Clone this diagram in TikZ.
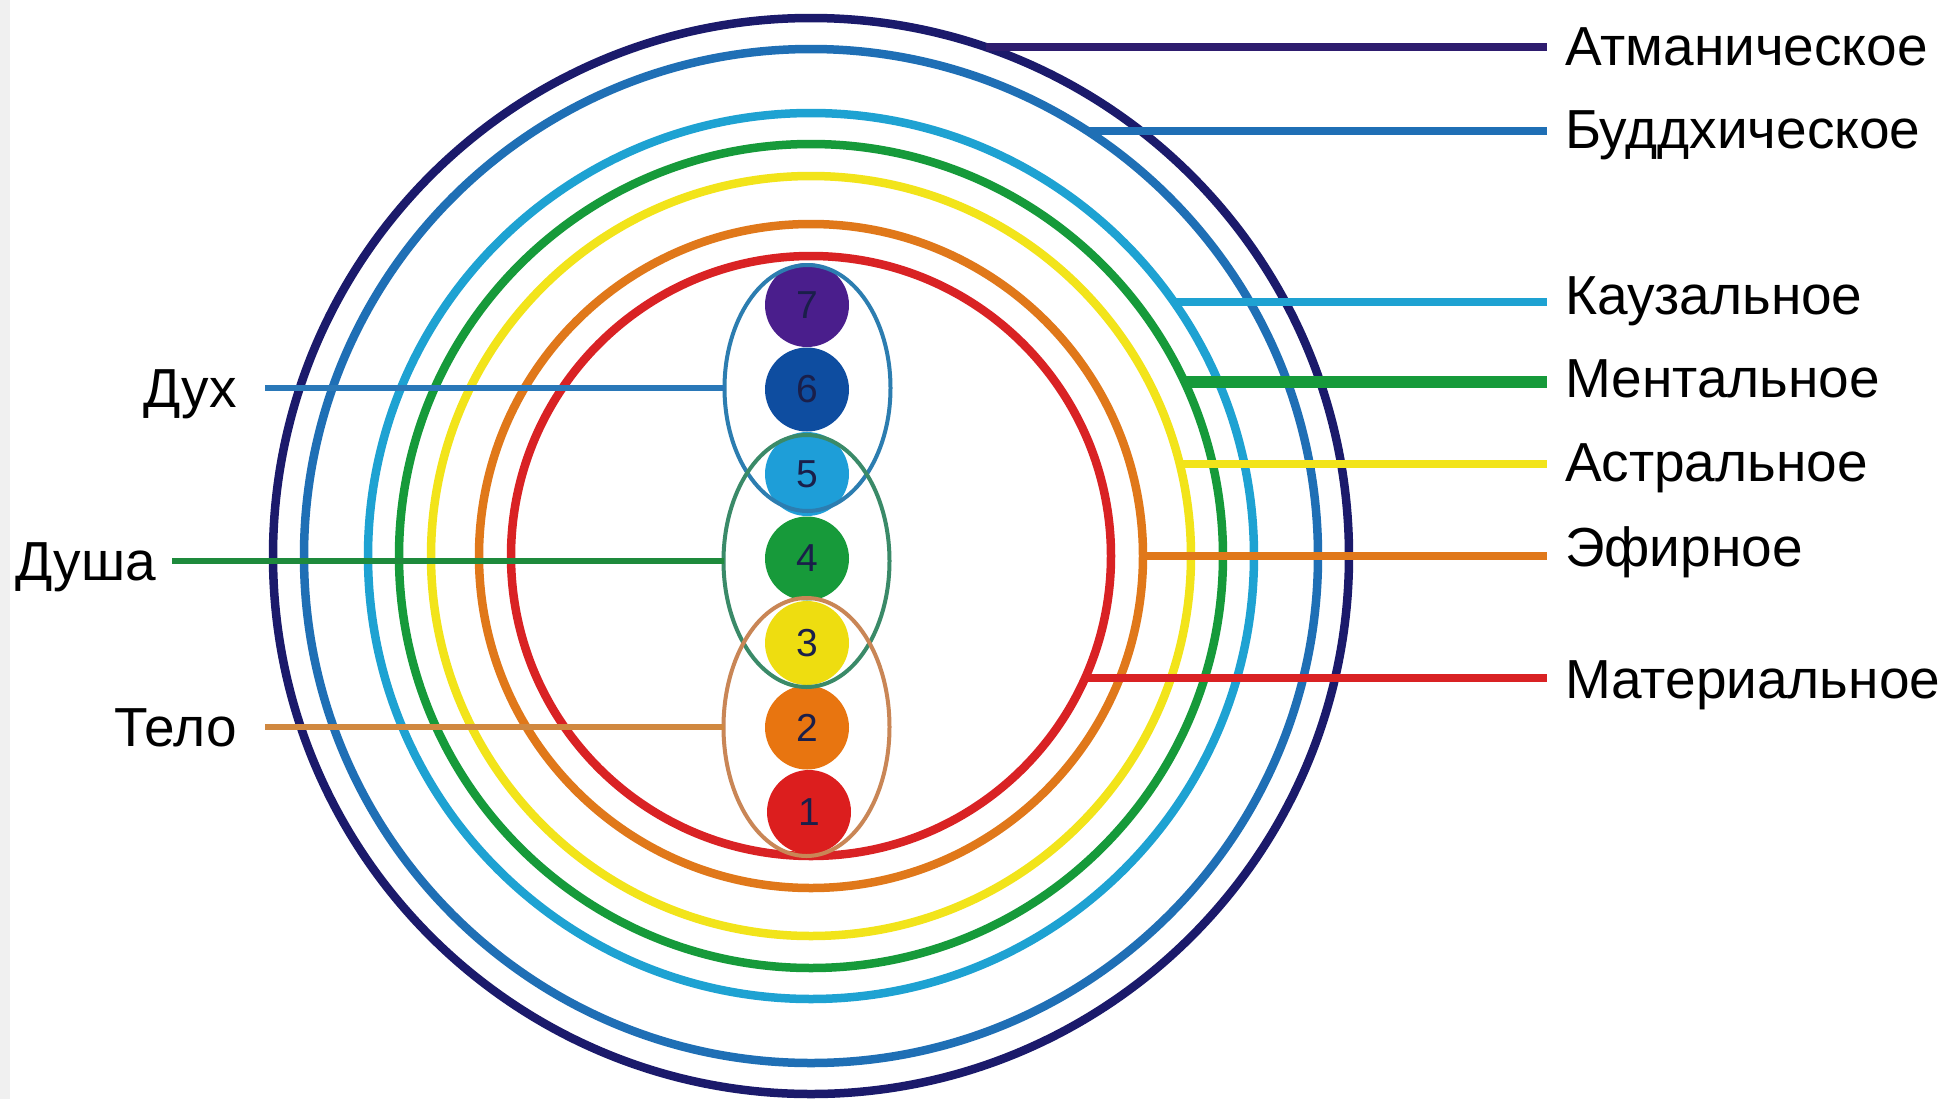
\documentclass[tikz,border=0pt]{standalone}
\usepackage{fontspec}
\setmainfont{Liberation Sans}
\usetikzlibrary{shapes.geometric,calc}
\definecolor{cNavy}{HTML}{1B1A6B}
\definecolor{cAtman}{HTML}{2E1C6E}
\definecolor{cBlue}{HTML}{1F6FB5}
\definecolor{cLight}{HTML}{1EA2D2}
\definecolor{cGreen}{HTML}{169A3A}
\definecolor{cYellow}{HTML}{F2E41A}
\definecolor{cOrange}{HTML}{E0781A}
\definecolor{cRed}{HTML}{D92224}
\definecolor{k7}{HTML}{4A1E8C}
\definecolor{k6}{HTML}{0E4DA0}
\definecolor{k5}{HTML}{1E9ED8}
\definecolor{k4}{HTML}{179A3A}
\definecolor{k3}{HTML}{EEDD10}
\definecolor{k2}{HTML}{E87510}
\definecolor{k1}{HTML}{DC1E1E}
\definecolor{eSpirit}{HTML}{2C7DB0}
\definecolor{eSoul}{HTML}{3A8A68}
\definecolor{eBody}{HTML}{C98656}
\definecolor{lSpirit}{HTML}{2A78B8}
\definecolor{lSoul}{HTML}{1E8A3C}
\definecolor{lBody}{HTML}{D08840}
\definecolor{numC}{HTML}{1A1F4A}
\begin{document}
\begin{tikzpicture}[x=0.5pt,y=-0.5pt,
  ring/.style={circle, draw, line width=4.25pt, inner sep=0pt, outer sep=0pt},
  chakra/.style={circle, inner sep=0pt, outer sep=0pt, minimum size=42pt,
    text=numC, font=\fontsize{19.5}{19.5}\selectfont},
  group/.style={ellipse, line width=2pt, inner sep=0pt, outer sep=0pt,
    minimum width=83pt},
  lbl/.style={inner sep=0pt, outer sep=0pt, text height=19.5pt, text depth=0pt,
    font=\fontsize{27.5}{31}\selectfont, text=black},
  rconn/.style={line width=4pt, shorten >=9pt},
  lconn/.style={line width=3pt}
]
\fill[white] (0,0) rectangle (1951,1099);
\useasboundingbox (0,0) rectangle (1951,1099);
\fill[gray!12] (0,0) rectangle (10,1099);

% planes (concentric rings)
\node[ring, draw=cNavy,   minimum size=538pt] (rAtman)  at (811,556) {};
\node[ring, draw=cBlue,   minimum size=507pt] (rBuddhi) at (811,556) {};
\node[ring, draw=cLight,  minimum size=443pt] (rCausal) at (811,556) {};
\node[ring, draw=cGreen,  minimum size=412pt] (rMental) at (811,556) {};
\node[ring, draw=cYellow, minimum size=380pt] (rAstral) at (811,556) {};
\node[ring, draw=cOrange, minimum size=332pt] (rEther)  at (811,556) {};
\node[ring, draw=cRed,    minimum size=300pt] (rMater)  at (811,556) {};

% chakras
\node[chakra, fill=k7] (c7) at (807,305) {7};
\node[chakra, fill=k6] (c6) at (807,389.5) {6};
\node[chakra, fill=k5] (c5) at (807,474) {5};
\node[chakra, fill=k4] (c4) at (807,558.5) {4};
\node[chakra, fill=k3] (c3) at (807,643) {3};
\node[chakra, fill=k2] (c2) at (807,727.5) {2};
\node[chakra, fill=k1] (c1) at (809,812) {1};

% groups
\node[group, draw=eSpirit, minimum height=123pt] (spirit) at (807.5,388) {};
\node[group, draw=eSoul,   minimum height=126pt] (soul)   at (806.5,561) {};
\node[group, draw=eBody,   minimum height=129pt] (body)   at (806.5,727) {};

% left labels and connectors
\node[lbl, anchor=east] (tDux)  at (237,388) {Дух};
\node[lbl, anchor=east] (tDusha) at (156,561) {Душа};
\node[lbl, anchor=east] (tTelo) at (237,727) {Тело};
\draw[lconn, draw=lSpirit, shorten >=14pt] (spirit.west) -- (spirit.west -| tDux.east);
\draw[lconn, draw=lSoul,   shorten >=8pt]  (soul.west)   -- (soul.west -| tDusha.east);
\draw[lconn, draw=lBody,   shorten >=14pt] (body.west)   -- (body.west -| tTelo.east);

% right labels and connectors
\node[lbl, anchor=west] (tAtman)  at (1565,46)  {Атманическое};
\node[lbl, anchor=west] (tBuddhi) at (1565,129) {Буддхическое};
\node[lbl, anchor=west] (tCausal) at (1565,295) {Каузальное};
\node[lbl, anchor=west] (tMental) at (1565,378) {Ментальное};
\node[lbl, anchor=west] (tAstral) at (1565,462) {Астральное};
\node[lbl, anchor=west] (tEther)  at (1565,547) {Эфирное};
\node[lbl, anchor=west] (tMater)  at (1565,679) {Материальное};

\draw[rconn, draw=cAtman] (rAtman.71.45) -- (rAtman.71.45 -| tAtman.west);
\draw[rconn, draw=cBlue]   (rBuddhi.57.37) -- (rBuddhi.57.37 -| tBuddhi.west);
\draw[rconn, draw=cLight]  (rCausal.35.94) -- (rCausal.35.94 -| tCausal.west);
\draw[rconn, draw=cGreen, line width=6pt] (rMental.25.29) -- (rMental.25.29 -| tMental.west);
\draw[rconn, draw=cYellow] (rAstral.14.17) -- (rAstral.14.17 -| tAstral.west);
\draw[rconn, draw=cOrange] (rEther.0.69)   -- (rEther.0.69 -| tEther.west);
\draw[rconn, draw=cRed]    (rMater.-24.2)  -- (rMater.-24.2 -| tMater.west);
\end{tikzpicture}
\end{document}
